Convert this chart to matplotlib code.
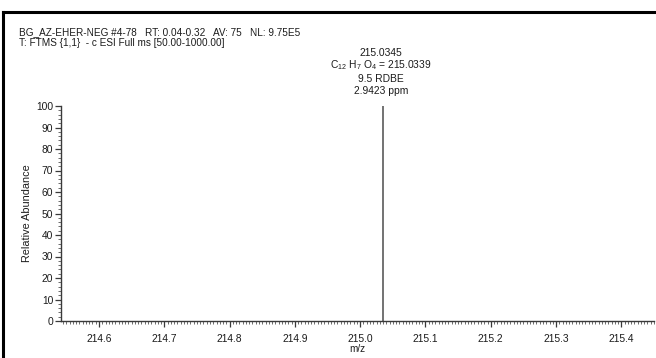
import matplotlib
matplotlib.use("Agg")
import matplotlib.pyplot as plt
from matplotlib.lines import Line2D
from matplotlib.ticker import MultipleLocator

plt.rcParams['font.family'] = ['Liberation Sans', 'DejaVu Sans']
plt.rcParams['mathtext.fontset'] = 'custom'
plt.rcParams['mathtext.rm'] = 'Liberation Sans'
plt.rcParams['mathtext.it'] = 'Liberation Sans'

# data
peak_mz = [215.0345]
peak_abundance = [100]
x_ticks = [214.6, 214.7, 214.8, 214.9, 215.0, 215.1, 215.2, 215.3, 215.4]
y_ticks = [0, 10, 20, 30, 40, 50, 60, 70, 80, 90, 100]
header_lines = ["BG_AZ-EHER-NEG #4-78   RT: 0.04-0.32   AV: 75   NL: 9.75E5",
                "T: FTMS {1,1}  - c ESI Full ms [50.00-1000.00]"]
peak_labels = ["215.0345",
               r"C$_{12}$ H$_7$ O$_4$ = 215.0339",
               "9.5 RDBE",
               "2.9423 ppm"]

TXT = '#1c1c1c'
W, H = 656, 358
fig = plt.figure(figsize=(W / 100, H / 100), dpi=100)
fig.patch.set_facecolor('white')

ax = fig.add_axes([61 / W, 1 - 321 / H, (654 - 61) / W, (321 - 106) / H])
ax.set_facecolor('none')
ax.vlines(peak_mz, 0, peak_abundance, color='#5a5a5a', linewidth=1.2, clip_on=False)

ax.set_xlim(214.5418, 215.45)
ax.set_ylim(0, 100)
ax.set_xticks(x_ticks)
ax.set_xticklabels([f"{v:.1f}" for v in x_ticks])
ax.set_yticks(y_ticks)
ax.xaxis.set_minor_locator(MultipleLocator(0.005))
ax.yaxis.set_minor_locator(MultipleLocator(2))
for s in ['top', 'right']:
    ax.spines[s].set_visible(False)
for s in ['left', 'bottom']:
    ax.spines[s].set_color('#3a3a3a')
    ax.spines[s].set_linewidth(1.0)
ax.tick_params(axis='both', which='major', length=4, width=0.9, color='#3a3a3a',
               labelsize=7.4, labelcolor=TXT, pad=1.5)
ax.tick_params(axis='both', which='minor', length=2.2, width=0.6, color='#555555')
ax.tick_params(axis='x', which='major', pad=5)
ax.set_xlabel("m/z", fontsize=7.2, color=TXT, labelpad=0)
ax.set_ylabel("Relative Abundance", fontsize=7.8, color=TXT, labelpad=3)

# header text
fig.text(19 / W, 1 - 32 / H, header_lines[0], fontsize=7.2, color=TXT,
         ha='left', va='center')
fig.text(19 / W, 1 - 43 / H, header_lines[1], fontsize=7.2, color=TXT,
         ha='left', va='center')

# peak annotation
ys = [53, 65, 79, 91]
for lab, yy in zip(peak_labels, ys):
    fig.text(381 / W, 1 - yy / H, lab, fontsize=7.4, color=TXT,
             ha='center', va='center')

# scan border
fig.add_artist(Line2D([3 / W, 1], [1 - 12 / H, 1 - 12 / H], color='black',
                      linewidth=2.2, transform=fig.transFigure))
fig.add_artist(Line2D([3 / W, 3 / W], [0, 1 - 12 / H], color='black',
                      linewidth=2.2, transform=fig.transFigure))

fig.savefig("out.png", dpi=100, facecolor='white')
